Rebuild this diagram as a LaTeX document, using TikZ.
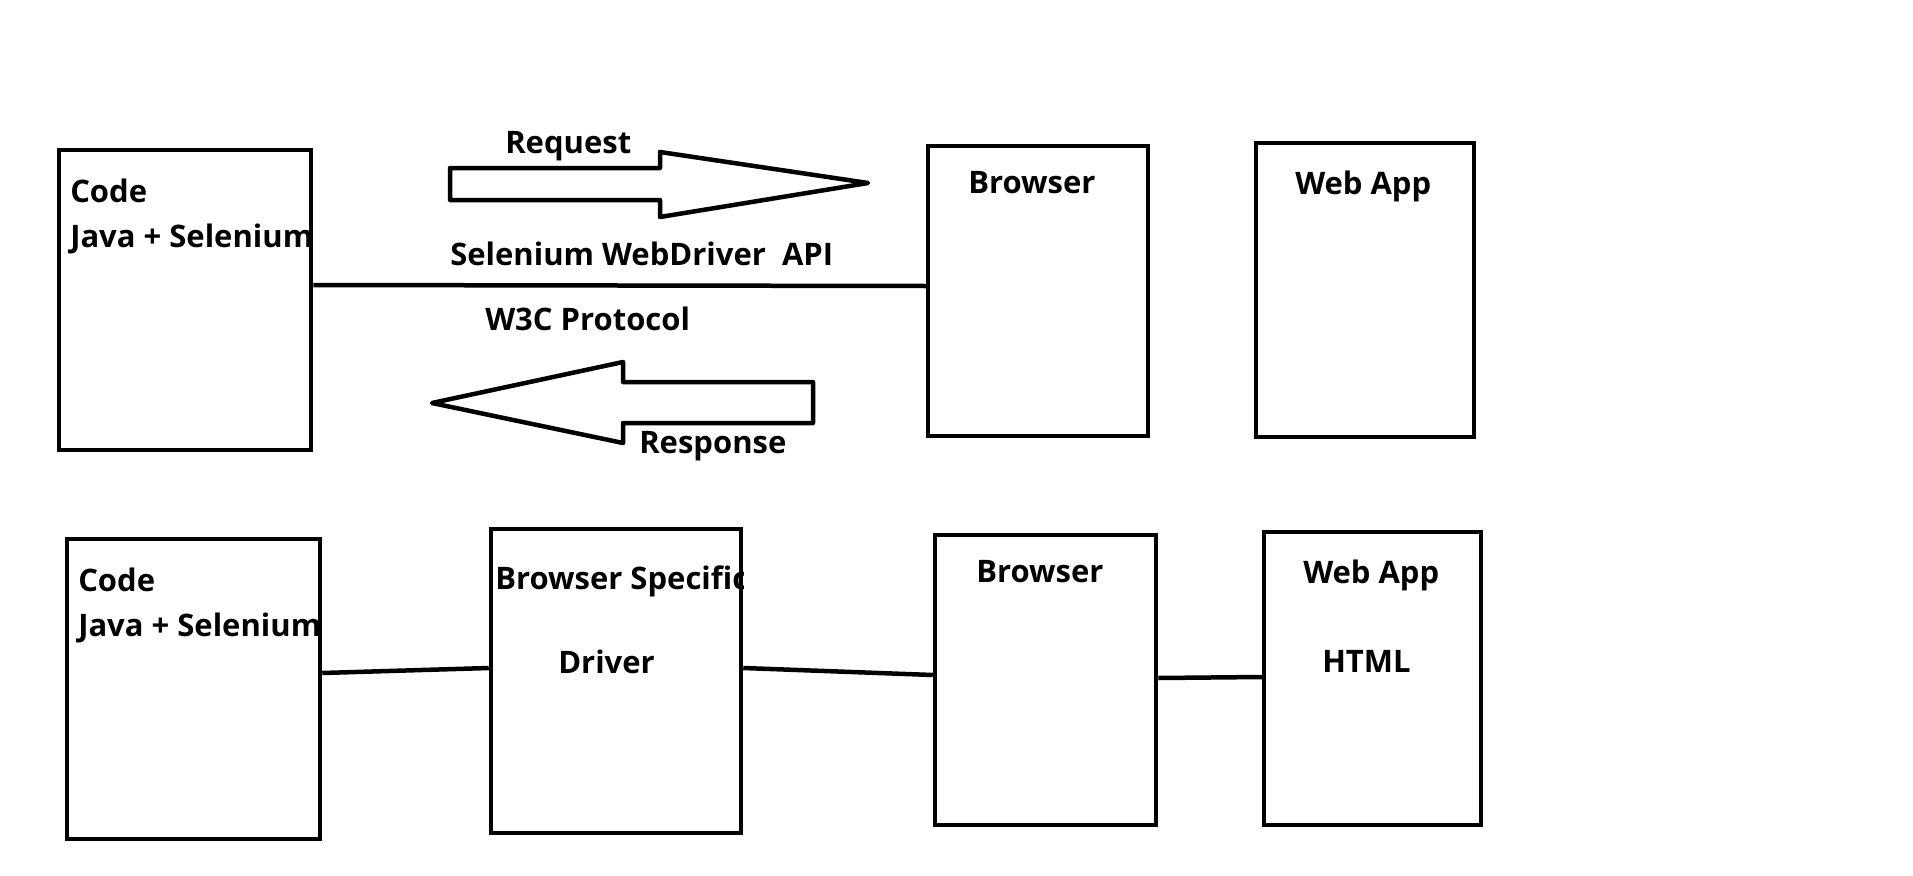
\documentclass[tikz,border=0pt]{standalone}
\usepackage{fontspec}
\setmainfont{Open Sans}
\usetikzlibrary{arrows.meta}

\begin{document}
\begin{tikzpicture}[x=1pt,y=-1pt,line width=4.5pt,
    box/.style={draw,line width=4.5pt,inner sep=0pt,line join=miter},
    lbl/.style={anchor=base west,inner sep=0pt,font=\fontsize{31}{37}\selectfont\bfseries}]

    % white background, fixes the size
    \useasboundingbox[fill=white] (0,0) rectangle (1913,875);

    % top row boxes
    \node[box,minimum width=252pt,minimum height=300pt] (code1) at (185,300) {};
    \node[box,minimum width=220pt,minimum height=290pt] (browser1) at (1038,291) {};
    \node[box,minimum width=218pt,minimum height=294pt] (webapp1) at (1365,290) {};

    % bottom row boxes
    \node[box,minimum width=253pt,minimum height=300pt] (code2) at (193.5,689) {};
    \node[box,minimum width=250pt,minimum height=304pt] (driver2) at (616,681) {};
    \node[box,minimum width=221pt,minimum height=290pt] (browser2) at (1045.5,680) {};
    \node[box,minimum width=217pt,minimum height=293pt] (webapp2) at (1372.5,678.5) {};

    % labels in the boxes
    \node[lbl] (code1a) at (68,202) {Code};
    \node[lbl] (code1b) at (68,247) {Java + Selenium};
    \node[lbl] (browser1a) at (966,193) {Browser};
    \node[lbl] (webapp1a) at (1293,194) {Web App};
    \node[lbl] (code2a) at (76,591) {Code};
    \node[lbl] (code2b) at (76,636) {Java + Selenium};
    \begin{scope}
        \clip (driver2.south west) rectangle (driver2.north east);
        \node[lbl] (driver2a) at (493,589) {Browser Specific};
    \end{scope}
    \node[lbl] (driver2b) at (556,673) {Driver};
    \node[lbl] (browser2a) at (974,582) {Browser};
    \node[lbl] (webapp2a) at (1301,583) {Web App};
    \node[lbl] (webapp2b) at (1320,672) {HTML};

    % labels of the link
    \node[lbl] (request) at (503,153) {Request};
    \node[lbl] (api) at (448,265) {Selenium WebDriver\ \ API};
    \node[lbl] (w3c) at (483,330) {W3C Protocol};
    \node[lbl] (response) at (637,453) {Response};

    % block arrows
    \draw[line join=round] (450,168) -- (660,168) -- (660,152) -- (868,183)
        -- (660,217) -- (660,200) -- (450,200) -- cycle;
    \draw[line join=round] (813,382) -- (623,382) -- (623,362) -- (432,403)
        -- (623,443) -- (623,423) -- (813,423) -- cycle;

    % connectors
    \draw ([yshift=15pt]code1.east) -- ([yshift=5pt]browser1.west);
    \draw ([yshift=16pt]code2.east) -- ([yshift=13pt]driver2.west);
    \draw ([yshift=13pt]driver2.east) -- ([yshift=5pt]browser2.west);
    \draw ([yshift=2pt]browser2.east) -- ([yshift=1.5pt]webapp2.west);

\end{tikzpicture}
\end{document}
